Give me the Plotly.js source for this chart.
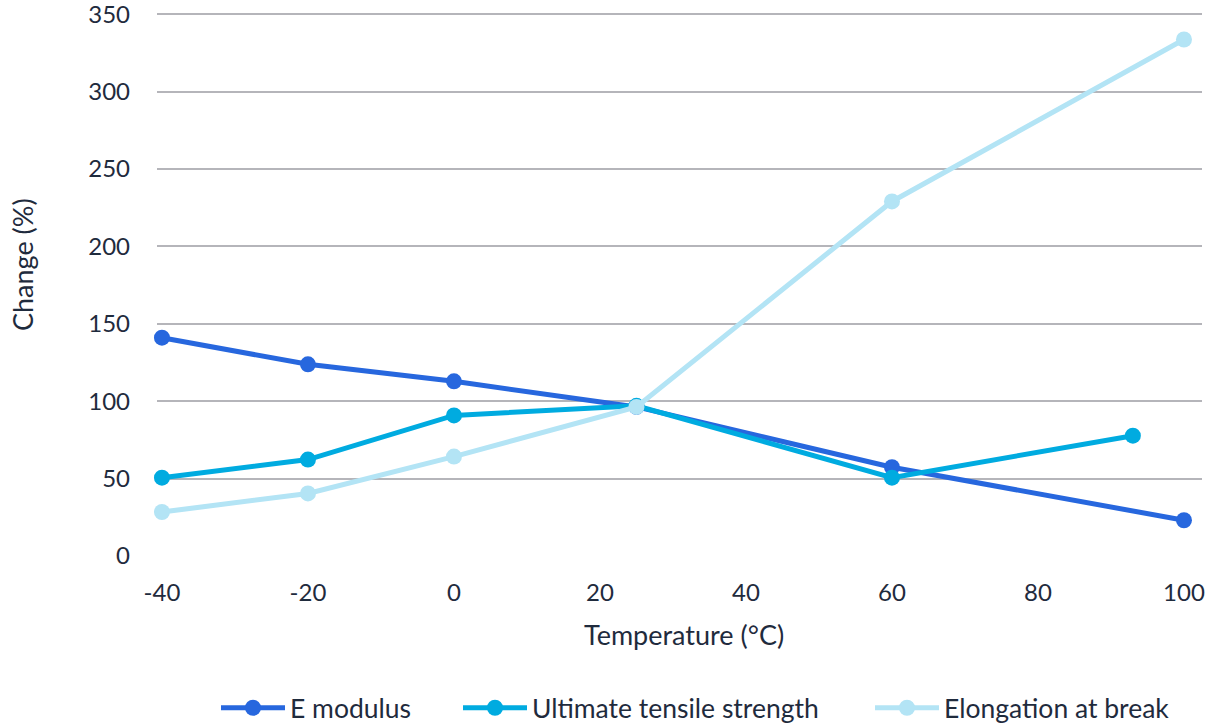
<!DOCTYPE html>
<html>
<head>
<meta charset="utf-8">
<script src="https://cdn.plot.ly/plotly-3.0.1.min.js"></script>
<style>html,body{margin:0;padding:0;background:#fff;}#chart{width:1215px;height:726px;}</style>
</head>
<body>
<div id="chart"></div>
<script>
const temperature = [-40, -20, 0, 25, 60, 100];
const temperatureUTS = [-40, -20, 0, 25, 60, 93];
const eModulus = [141, 123.8, 112.8, 96.3, 57.3, 23.1];
const tensileStrength = [50.6, 62.3, 90.8, 97, 50.6, 77.7];
const elongation = [28.4, 40.4, 64.2, 96.3, 229, 333.6];
const seriesNames = ["E modulus", "Ultimate tensile strength", "Elongation at break"];
const xTicks = [-40, -20, 0, 20, 40, 60, 80, 100];
const yTicks = [0, 50, 100, 150, 200, 250, 300, 350];
const xTitle = "Temperature (°C)";
const yTitle = "Change (%)";

const textColor = "#1f2b3d";
const colors = ["#2767de", "#00abe0", "#b3e4f5"];

function trace(x, y, name, color, legendId) {
  return {
    x: x, y: y, name: name, type: "scatter", mode: "lines+markers",
    line: {color: color, width: 5},
    marker: {color: color, size: 16},
    legend: legendId, cliponaxis: false
  };
}

const data = [
  trace(temperature, eModulus, seriesNames[0], colors[0], "legend"),
  trace(temperatureUTS, tensileStrength, seriesNames[1], colors[1], "legend2"),
  trace(temperature, elongation, seriesNames[2], colors[2], "legend3")
];

function legendAt(xpx) {
  return {
    orientation: "h", xref: "container", yref: "container",
    x: xpx / 1215, xanchor: "left", y: (726 - 708) / 726, yanchor: "middle",
    font: {size: 26.5, color: textColor}, itemwidth: 64,
    bgcolor: "rgba(0,0,0,0)"
  };
}

const layout = {
  width: 1215, height: 726,
  margin: {l: 157, r: 13, t: 11, b: 170, autoexpand: false},
  paper_bgcolor: "#ffffff", plot_bgcolor: "#ffffff",
  font: {family: "Lato, 'Open Sans', sans-serif", size: 24, color: textColor},
  showlegend: true,
  legend: legendAt(216),
  legend2: legendAt(458),
  legend3: legendAt(870),
  xaxis: {
    range: [-40.68, 102.47],
    tickvals: xTicks, ticktext: xTicks.map(String),
    showgrid: false, zeroline: false, showline: false,
    ticks: "", ticklabelstandoff: 20, ticklabeloverflow: "allow",
    tickfont: {size: 24, color: textColor}
  },
  yaxis: {
    range: [0, 352],
    tickvals: yTicks, ticktext: yTicks.map(String),
    showgrid: true, gridcolor: "#b5b5ba", gridwidth: 2,
    zeroline: false, showline: false,
    ticks: "", ticklabelstandoff: 26, ticklabeloverflow: "allow",
    tickfont: {size: 24, color: textColor}
  },
  annotations: [
    {text: xTitle, xref: "paper", yref: "paper", x: (684 - 157) / 1045, y: (556 - 634) / 545,
     xanchor: "center", yanchor: "middle", showarrow: false, font: {size: 27, color: textColor}},
    {text: yTitle, xref: "paper", yref: "paper", x: (22 - 157) / 1045, y: (556 - 265) / 545,
     xanchor: "center", yanchor: "middle", textangle: -90, showarrow: false, font: {size: 27, color: textColor}}
  ]
};

Plotly.newPlot("chart", data, layout, {displayModeBar: false, staticPlot: true});
</script>
</body>
</html>
